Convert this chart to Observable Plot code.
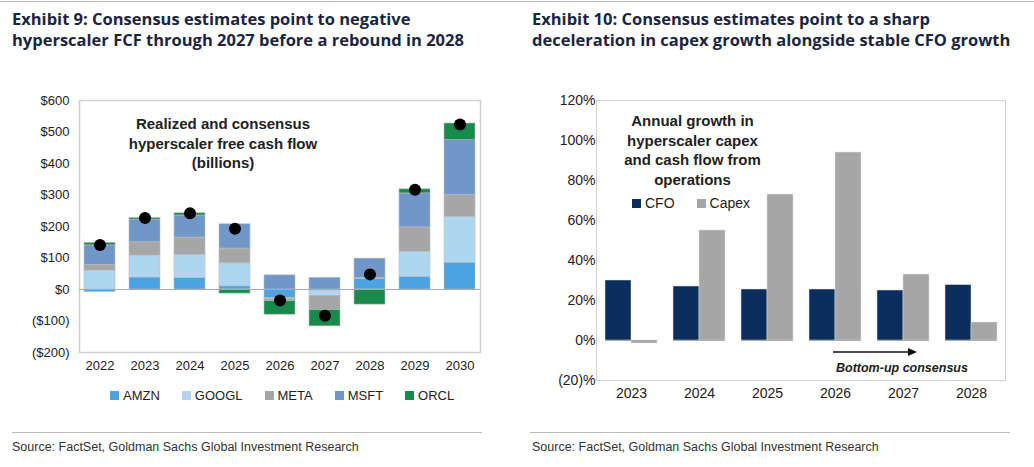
<!DOCTYPE html>
<html><head><meta charset="utf-8">
<script src="https://cdn.jsdelivr.net/npm/d3@7"></script>
<script src="https://cdn.jsdelivr.net/npm/@observablehq/plot@0.6"></script>
<style>
body{margin:0;width:1034px;height:467px;background:#fff;font-family:Arial,"Liberation Sans",sans-serif;position:relative;overflow:hidden}
.abs{position:absolute}
.title{font-family:"Open Sans",Arial,sans-serif;font-weight:700;font-size:16.5px;line-height:21px;color:#1b2540}
.src{font-size:12.5px;color:#333}
.ann{font-weight:700;font-size:15px;line-height:19.5px;color:#222;text-align:center}
.leg{font-size:13px;color:#222;display:flex;align-items:center}
.sw{display:inline-block;width:9px;height:9px;margin-right:4px}
</style></head><body>
<div class="abs" style="left:0;top:1px;width:1034px;border-top:1px solid #bbb"></div>
<div class="abs title" style="left:12px;top:8px">Exhibit 9: Consensus estimates point to negative<br>hyperscaler FCF through 2027 before a rebound in 2028</div>
<div class="abs title" style="left:532px;top:8px">Exhibit 10: Consensus estimates point to a sharp<br>deceleration in capex growth alongside stable CFO growth</div>
<div id="left" class="abs" style="left:0;top:90px"></div>
<div id="right" class="abs" style="left:520px;top:90px"></div>
<div class="abs" style="left:596px;top:100px;width:408px;height:279px;border:1.5px solid #d0d0d0;pointer-events:none"></div>
<div class="abs ann" style="left:103px;top:114px;width:240px">Realized and consensus<br>hyperscaler free cash flow<br>(billions)</div>
<div class="abs ann" style="left:600px;top:111px;width:185px">Annual growth in<br>hyperscaler capex<br>and cash flow from<br>operations</div>
<div class="abs leg" style="left:632px;top:195px;font-size:14px"><span class="sw" style="background:#0b2e5c"></span>CFO<span style="width:22px"></span><span class="sw" style="background:#a6a6a6"></span>Capex</div>
<svg class="abs" style="left:820px;top:345px" width="110" height="14"><line x1="13" y1="7" x2="90" y2="7" stroke="#111" stroke-width="1.5"/><path d="M88,3 L97,7 L88,11 Z" fill="#111"/></svg>
<div class="abs" style="left:836px;top:361px;font-weight:700;font-style:italic;font-size:12.5px;color:#222">Bottom-up consensus</div>
<div class="abs leg" id="lleg" style="left:110px;top:388px"></div>
<div class="abs" style="left:12px;top:432px;width:470px;border-top:1px solid #bbb"></div>
<div class="abs" style="left:530px;top:432px;width:480px;border-top:1px solid #bbb"></div>
<div class="abs src" style="left:12px;top:440px">Source: FactSet, Goldman Sachs Global Investment Research</div>
<div class="abs src" style="left:532px;top:440px">Source: FactSet, Goldman Sachs Global Investment Research</div>
<script>
const years = ["2022","2023","2024","2025","2026","2027","2028","2029","2030"];
const companies = ["AMZN","GOOGL","META","MSFT","ORCL"];
const colors = ["#4ba3e3","#aed6f1","#a6a6a6","#7097c8","#178a4c"];
const AMZN  = [-8, 38, 37, 10, -28, -3, 33, 40, 85];
const GOOGL = [60, 70, 73, 73, -3, -17, 0, 80, 146];
const META  = [18, 42, 55, 47, -6, -45, 3, 77, 69];
const MSFT  = [62, 72, 70, 77, 45, 37, 62, 108, 174];
const ORCL  = [8, 5, 7, -13, -43, -52, -48, 13, 53];
const totalFCF = [141, 227, 242, 193, -35, -83, 48, 317, 524];
const yTicks = [-200,-100,0,100,200,300,400,500,600];

const seriesMap = {AMZN, GOOGL, META, MSFT, ORCL};
const fcf = [];
companies.forEach(c => years.forEach((y,i) => fcf.push({year:y, company:c, value:seriesMap[c][i]})));
const dots = years.map((y,i)=>({year:y, value:totalFCF[i]}));
const fmt = v => v<0 ? `($${-v})` : `$${v}`;

document.getElementById("left").append(Plot.plot({
  width:500, height:290, marginLeft:79, marginRight:20, marginTop:10, marginBottom:28,
  style:{fontFamily:"Arial, 'Liberation Sans', sans-serif", fontSize:"13px", color:"#222"},
  x:{domain:years, paddingInner:0.3, paddingOuter:0.08, label:null, tickSize:0, tickPadding:8},
  y:{domain:[-200,600], ticks:yTicks, tickFormat:fmt, label:null, tickSize:0, tickPadding:10},
  color:{domain:companies, range:colors},
  marks:[
    Plot.frame({stroke:"#d0d0d0", strokeWidth:1.5}),
    Plot.barY(fcf, {x:"year", y:"value", fill:"company", order:companies, stroke:"#bbb", strokeWidth:0.6}),
    Plot.ruleY([0], {stroke:"#aaa"}),
    Plot.dot(dots, {x:"year", y:"value", r:6, fill:"#000"})
  ]
}));

const lleg = document.getElementById("lleg");
companies.forEach((c,i)=>{
  const s=document.createElement("span"); s.className="sw"; s.style.background=colors[i];
  const t=document.createElement("span"); t.textContent=c; t.style.marginRight="22px";
  lleg.append(s,t);
});

const years2 = ["2023","2024","2025","2026","2027","2028"];
const CFO   = [30, 27, 25.5, 25.5, 25, 27.7];
const Capex = [-1.5, 55, 73, 94, 33, 9];
const growth = [];
years2.forEach((y,i)=>{ growth.push({year:y, s:"CFO", v:CFO[i]}); growth.push({year:y, s:"Capex", v:Capex[i]}); });

document.getElementById("right").append(Plot.plot({
  width:514, height:325, marginLeft:76, marginRight:29, marginTop:10, marginBottom:35,
  style:{fontFamily:"Arial, 'Liberation Sans', sans-serif", fontSize:"14px", color:"#222"},
  fx:{domain:years2, paddingInner:0.24, paddingOuter:0.1, label:null, tickSize:0, tickPadding:8},
  x:{domain:["CFO","Capex"], padding:0, axis:null},
  y:{domain:[-20,120], ticks:[-20,0,20,40,60,80,100,120], tickFormat:v=> v<0?`(${-v})%`:`${v}%`, label:null, tickSize:0, tickPadding:10},
  color:{domain:["CFO","Capex"], range:["#0b2e5c","#a6a6a6"]},
  marks:[
    Plot.barY(growth, {fx:"year", x:"s", y:"v", fill:"s", stroke:"#ddd", strokeWidth:0.5}),
    Plot.ruleY([0], {stroke:"#aaa"})
  ]
}));
</script>
</body></html>
